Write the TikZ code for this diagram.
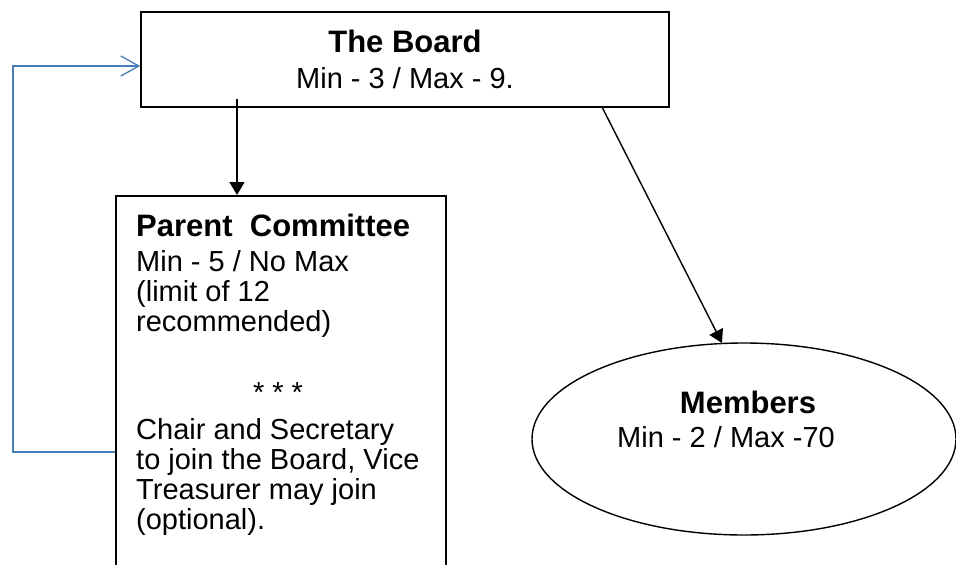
\documentclass[tikz,border=0pt]{standalone}
\usepackage{fontspec}
\setmainfont{Liberation Sans}
\usetikzlibrary{arrows.meta,shapes.geometric}
\definecolor{lineblue}{HTML}{4A7EBB}
\tikzset{
  boxshape/.style={draw, line width=1.6pt, inner sep=0pt},
  txt/.style={inner sep=0pt, font=\fontsize{29}{30}\selectfont},
  blk/.style={line width=1.4pt, -{Triangle[length=13pt,width=15pt]}},
  blu/.style={draw=lineblue, line width=1.3pt, -{Straight Barb[length=18pt,width=20pt,line width=1.3pt]}}
}
\newcommand{\ttl}[1]{{\fontsize{31}{30}\selectfont\bfseries #1}}
\begin{document}
\begin{tikzpicture}[x=1pt,y=-1pt]
\useasboundingbox (0,0) rectangle (956,565);
\clip (0,0) rectangle (956,565);
% The Board
\node[boxshape, txt, align=center, minimum width=528pt, minimum height=95pt] (board) at (405,59.5)
  {\ttl{The Board}\\[5.6pt]Min - 3 / Max - 9.};
% Parent Committee box
\node[boxshape, anchor=north west, minimum width=330pt, minimum height=420pt] (committee) at (115,195) {};
\node[txt, align=left, anchor=north west] (ctop) at (136,213.5)
  {\ttl{Parent\ \ Committee}\\[5pt]Min - 5 / No Max\\(limit of 12\\recommended)};
\node[txt, anchor=base] (cstars) at (278,402) {* * *};
\node[txt, align=left, anchor=north west] (cbottom) at (136,418.5)
  {Chair and Secretary\\to join the Board, Vice\\Treasurer may join\\(optional).};
% Members
\node[draw, ellipse, line width=1.4pt, minimum width=424pt, minimum height=192pt] (members) at (744,439) {};
\node[txt, align=center, anchor=north] (mtext) at (726,390.4)
  {\hspace*{44pt}\ttl{Members}\\[4pt]Min - 2 / Max -70};
% connectors
\coordinate (a1) at (237,99);
\draw[blk] (a1) -- (a1 |- committee.north);
\coordinate (a2) at (602,107);
\coordinate (mtip) at (722,343);
\draw[blk] (a2) -- (mtip);
\coordinate (bl) at (13,452);
\coordinate (tl) at (13,66);
\draw[blu] (committee.west |- bl) -- (bl) -- (tl) -- (tl -| board.west);
\end{tikzpicture}
\end{document}
